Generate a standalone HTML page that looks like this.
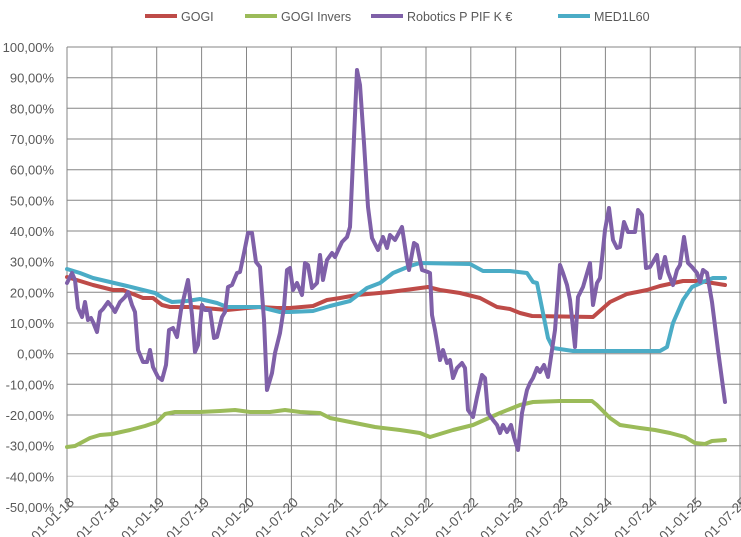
<!DOCTYPE html>
<html><head><meta charset="utf-8"><style>
body{margin:0;background:#fff;}
svg{display:block;font-family:"Liberation Sans",sans-serif;}
</style></head><body>
<svg width="741" height="537" viewBox="0 0 741 537">
<g fill="#595959" font-size="12.5">
<line x1="145" y1="16" x2="177" y2="16" stroke="#be4b48" stroke-width="4"/><text x="181" y="21">GOGI</text>
<line x1="245" y1="16" x2="277" y2="16" stroke="#9bbb59" stroke-width="4"/><text x="281" y="21">GOGI Invers</text>
<line x1="371" y1="16" x2="403" y2="16" stroke="#7f60a8" stroke-width="4"/><text x="407" y="21">Robotics P PIF K €</text>
<line x1="558" y1="16" x2="590" y2="16" stroke="#4bacc6" stroke-width="4"/><text x="594" y="21">MED1L60</text>
</g>
<g stroke="#868686" stroke-width="1">
<line x1="67" y1="47" x2="741" y2="47"/><line x1="67" y1="77.7" x2="741" y2="77.7"/><line x1="67" y1="108.3" x2="741" y2="108.3"/><line x1="67" y1="139" x2="741" y2="139"/><line x1="67" y1="169.7" x2="741" y2="169.7"/><line x1="67" y1="200.3" x2="741" y2="200.3"/><line x1="67" y1="231" x2="741" y2="231"/><line x1="67" y1="261.7" x2="741" y2="261.7"/><line x1="67" y1="292.3" x2="741" y2="292.3"/><line x1="67" y1="323" x2="741" y2="323"/><line x1="67" y1="353.7" x2="741" y2="353.7"/><line x1="67" y1="384.3" x2="741" y2="384.3"/><line x1="67" y1="415" x2="741" y2="415"/><line x1="67" y1="445.7" x2="741" y2="445.7"/><line x1="67" y1="476.3" x2="741" y2="476.3" stroke="#c8c8c8"/><line x1="67" y1="507" x2="741" y2="507"/>
<line x1="67" y1="47" x2="67" y2="507"/><line x1="111.9" y1="47" x2="111.9" y2="507"/><line x1="156.7" y1="47" x2="156.7" y2="507"/><line x1="201.6" y1="47" x2="201.6" y2="507"/><line x1="246.5" y1="47" x2="246.5" y2="507"/><line x1="291.4" y1="47" x2="291.4" y2="507"/><line x1="336.2" y1="47" x2="336.2" y2="507"/><line x1="381.1" y1="47" x2="381.1" y2="507"/><line x1="426" y1="47" x2="426" y2="507"/><line x1="470.8" y1="47" x2="470.8" y2="507"/><line x1="515.7" y1="47" x2="515.7" y2="507"/><line x1="560.6" y1="47" x2="560.6" y2="507"/><line x1="605.4" y1="47" x2="605.4" y2="507"/><line x1="650.3" y1="47" x2="650.3" y2="507"/><line x1="695.2" y1="47" x2="695.2" y2="507"/><line x1="740" y1="47" x2="740" y2="507"/>
</g>
<g fill="#595959" font-size="13" text-anchor="end">
<text x="54" y="52">100,00%</text><text x="54" y="82.7">90,00%</text><text x="54" y="113.3">80,00%</text><text x="54" y="144">70,00%</text><text x="54" y="174.7">60,00%</text><text x="54" y="205.3">50,00%</text><text x="54" y="236">40,00%</text><text x="54" y="266.7">30,00%</text><text x="54" y="297.3">20,00%</text><text x="54" y="328">10,00%</text><text x="54" y="358.7">0,00%</text><text x="54" y="389.3">-10,00%</text><text x="54" y="420">-20,00%</text><text x="54" y="450.7">-30,00%</text><text x="54" y="481.3">-40,00%</text><text x="54" y="512">-50,00%</text>
</g>
<g fill="#595959" font-size="13.5" text-anchor="end">
<text transform="translate(75,503) rotate(-45)">01-01-18</text>
<text transform="translate(120,503) rotate(-45)">01-07-18</text>
<text transform="translate(165,503) rotate(-45)">01-01-19</text>
<text transform="translate(210,503) rotate(-45)">01-07-19</text>
<text transform="translate(255,503) rotate(-45)">01-01-20</text>
<text transform="translate(299,503) rotate(-45)">01-07-20</text>
<text transform="translate(344,503) rotate(-45)">01-01-21</text>
<text transform="translate(389,503) rotate(-45)">01-07-21</text>
<text transform="translate(434,503) rotate(-45)">01-01-22</text>
<text transform="translate(479,503) rotate(-45)">01-07-22</text>
<text transform="translate(524,503) rotate(-45)">01-01-23</text>
<text transform="translate(569,503) rotate(-45)">01-07-23</text>
<text transform="translate(613,503) rotate(-45)">01-01-24</text>
<text transform="translate(658,503) rotate(-45)">01-07-24</text>
<text transform="translate(703,503) rotate(-45)">01-01-25</text>
<text transform="translate(748,503) rotate(-45)">01-07-25</text>
</g>
<g fill="none" stroke-width="4" stroke-linejoin="round" stroke-linecap="round">
<polyline stroke="#9bbb59" points="67,447 75,446 90,438 100,435 112,434 130,430 145,426 157,422 165,414 175,412 200,412 220,411 235,410 250,412 270,412 285,410 300,412 320,413 330,418 345,421 360,424 375,427 400,430 420,433 430,437 453,430 473,425 500,413 520,405 533,402 560,401 592,401 597,405 610,418 620,425 640,428 655,430 670,433 685,437 695,443 705,444 712,441 725,440"/>
<polyline stroke="#be4b48" points="67,277 93,285 113,290 123,290 143,298 153,298 162,305 170,307 193,307 227,310 247,308 260,307 277,308 290,308 313,306 327,300 340,298 357,295 390,292 413,289 428,287 440,290 460,293 480,298 497,307 510,309 520,313 532,316 593,317 610,302 627,294 647,290 660,286 683,281 700,281 725,285"/>
<polyline stroke="#4bacc6" points="67,269 80,273 93,278 110,282 127,286 143,290 155,293 163,298 172,302 187,301 200,299 217,303 227,307 260,307 280,312 290,312 313,311 330,306 350,301 367,288 380,283 393,273 410,266 420,263 470,264 483,271 510,271 527,273 533,282 537,283 543,313 548,338 553,348 573,351 660,351 667,347 673,323 683,300 692,287 703,282 713,278 725,278"/>
<polyline stroke="#7f60a8" points="67,283 72,273 75,280 78,308 82,317 85,302 88,320 91,318 93,322 97,332 100,312 103,309 108,302 112,307 115,312 120,302 125,297 128,292 132,305 135,312 138,350 143,362 147,362 150,350 153,367 158,377 162,380 166,365 169,330 173,328 177,337 181,310 184,297 188,280 192,315 195,352 198,345 202,305 205,310 210,310 214,338 217,337 222,317 225,312 228,287 232,285 237,273 240,272 244,253 248,233 252,233 256,262 260,267 264,320 267,390 272,373 275,353 280,333 284,307 287,270 290,268 293,290 297,283 302,295 305,263 308,265 312,288 317,283 320,255 323,280 327,260 332,253 335,257 342,242 347,237 350,227 353,160 357,70 360,85 364,143 368,207 372,238 378,250 383,237 387,248 390,235 395,240 402,227 407,260 409,270 414,243 417,245 422,270 428,272 430,273 432,315 435,330 440,360 443,350 447,363 450,360 453,378 457,368 462,363 465,368 468,410 473,417 477,397 482,375 485,378 488,413 493,420 497,425 500,433 503,425 507,432 511,425 514,437 518,450 522,413 527,390 530,383 533,378 537,368 540,372 544,365 548,377 552,350 555,330 560,265 563,273 567,285 570,300 575,347 578,297 583,287 590,263 593,305 597,283 600,278 605,230 609,208 613,240 617,248 620,247 624,222 628,232 635,232 638,210 642,215 646,268 650,267 653,262 657,255 660,278 665,257 668,272 673,285 677,270 680,265 684,237 688,263 692,267 697,273 700,282 703,270 707,273 712,302 718,350 725,402"/>
</g>
</svg>
</body></html>
